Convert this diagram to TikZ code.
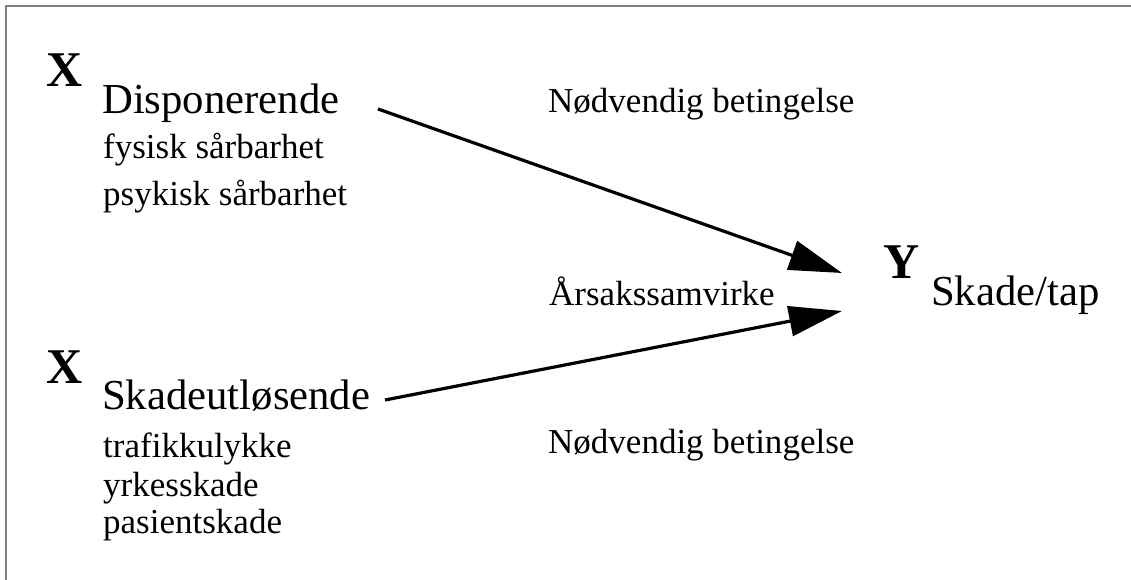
\documentclass[tikz,border=0pt]{standalone}
\usepackage{fontspec}
\setmainfont{Liberation Serif}
\usetikzlibrary{arrows.meta, positioning}

\begin{document}
\begin{tikzpicture}[x=1pt, y=-1pt,
        big/.style={font=\fontsize{42.7}{46}\selectfont, anchor=base west, inner sep=0pt},
        small/.style={font=\fontsize{35}{38}\selectfont, anchor=base west, inner sep=0pt},
        var/.style={font=\fontsize{50}{54}\selectfont\bfseries, anchor=base west, inner sep=0pt},
        link/.style={line width=3.2pt, -{Triangle[length=53pt, width=30pt]}}]
        \useasboundingbox (0,0) rectangle (1131,580);
        \draw[gray, line width=2pt] (6,580) -- (6,6) -- (1131,6);

        % disponerende faktor
        \node[var] (xTop) at (46,87) {X};
        \node[big] (disp) at (102,114) {Disponerende};
        \node[small] (fysisk) at (103,159) {fysisk sårbarhet};
        \node[small] (psykisk) at (103,205) {psykisk sårbarhet};

        % skadeutløsende faktor
        \node[var] (xBot) at (46,383) {X};
        \node[big] (utl) at (102,409) {Skadeutløsende};
        \node[small] (trafikk) at (103,457) {trafikkulykke};
        \node[small] (yrke) at (103,496) {yrkesskade};
        \node[small] (pasient) at (103,533) {pasientskade};

        \node[small] (betTop) at (548,113) {Nødvendig betingelse};
        \node[small] (samvirke) at (549,305) {Årsakssamvirke};
        \node[small] (betBot) at (548,453) {Nødvendig betingelse};

        % følge
        \node[var] (yRes) at (883,278) {Y};
        \node[big] (skade) at (931,305) {Skade/tap};

        \coordinate (dispOut) at (378,109);
        \coordinate (utlOut) at (385,400);
        \coordinate (yInTop) at (842,273);
        \coordinate (yInBot) at (842,311);
        \draw[link] (dispOut) -- (yInTop);
        \draw[link] (utlOut) -- (yInBot);
    \end{tikzpicture}
\end{document}
